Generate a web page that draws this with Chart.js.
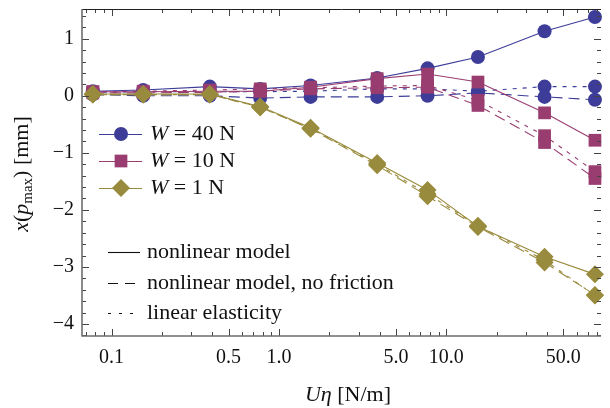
<!DOCTYPE html>
<html>
<head>
<meta charset="utf-8">
<script src="https://cdn.jsdelivr.net/npm/chart.js@4.4.1/dist/chart.umd.min.js"></script>
<style>
  html, body { margin: 0; padding: 0; background: #fff; }
  #wrap { width: 610px; height: 408px; position: relative; }
</style>
</head>
<body>
<div id="wrap"><canvas id="dispChart"></canvas></div>
<script>
// U*eta values [N/m]
const uEta = [0.0773, 0.1546, 0.3865, 0.773, 1.546, 3.865, 7.73, 15.46, 38.65, 77.3];

// x(p_max) [mm], W = 40 N
const w40Nonlinear   = [0.08, 0.10, 0.16, 0.12, 0.18, 0.31, 0.48, 0.68, 1.13, 1.38];
const w40NoFriction  = [0.02, 0.00, 0.00, -0.04, -0.02, -0.02, 0.00, 0.05, -0.02, -0.07];
const w40Linear      = [0.06, 0.07, 0.07, 0.07, 0.08, 0.12, 0.12, 0.08, 0.16, 0.16];

// W = 10 N
const w10Nonlinear   = [0.07, 0.07, 0.08, 0.08, 0.15, 0.30, 0.38, 0.24, -0.30, -0.78];
const w10NoFriction  = [0.05, 0.05, 0.06, 0.08, 0.12, 0.14, 0.15, -0.17, -0.82, -1.45];
const w10Linear      = [0.07, 0.08, 0.10, 0.12, 0.14, 0.17, 0.18, -0.08, -0.70, -1.33];

// W = 1 N
const w1Nonlinear    = [0.03, 0.03, 0.03, -0.19, -0.56, -1.18, -1.65, -2.29, -2.82, -3.13];
const w1NoFriction   = [0.02, 0.02, 0.02, -0.20, -0.58, -1.22, -1.76, -2.30, -2.92, -3.49];
const w1Linear       = [0.02, 0.02, 0.02, -0.20, -0.57, -1.20, -1.72, -2.28, -2.88, -3.50];

// axis ticks
const xMajorTicks = [0.1, 0.5, 1, 5, 10, 50];
const xMajorLabels = ['0.1', '0.5', '1.0', '5.0', '10.0', '50.0'];
const xMinorTicks = [0.07, 0.08, 0.09, 0.2, 0.3, 0.4, 0.6, 0.7, 0.8, 0.9,
                     2, 3, 4, 6, 7, 8, 9, 20, 30, 40, 60, 70, 80];
const yMajorTicks = [-4, -3, -2, -1, 0, 1];
const yMinorTicks = [-4.2, -3.8, -3.6, -3.4, -3.2, -2.8, -2.6, -2.4, -2.2, -1.8, -1.6, -1.4, -1.2,
                     -0.8, -0.6, -0.4, -0.2, 0.2, 0.4, 0.6, 0.8, 1.2, 1.4];

const legendLabels = ['40', '10', '1'];
const styleLabels = ['nonlinear model', 'nonlinear model, no friction', 'linear elasticity'];

const BLUE = '#3d3d99';
const MAGENTA = '#993d71';
const OLIVE = '#998b3d';
const DASHED = [11, 6];
const DOTTED = [4, 6];

function pts(ys) {
    return uEta.map((x, i) => ({ x: x, y: ys[i] }));
}

function series(label, ys, color, style, radius, dash) {
    return {
        label: label,
        data: pts(ys),
        borderColor: color,
        backgroundColor: color,
        borderWidth: 1.1,
        borderDash: dash,
        pointStyle: style,
        pointRadius: radius,
        pointBorderWidth: 0,
        pointBackgroundColor: color,
        tension: 0,
        clip: 10
    };
}

const datasets = [
    series('1 N nonlinear', w1Nonlinear, OLIVE, 'rectRot', 9, []),
    series('1 N no friction', w1NoFriction, OLIVE, 'rectRot', 9, DASHED),
    series('1 N linear', w1Linear, OLIVE, 'rectRot', 9, DOTTED),
    series('10 N nonlinear', w10Nonlinear, MAGENTA, 'rect', 9, []),
    series('10 N no friction', w10NoFriction, MAGENTA, 'rect', 9, DASHED),
    series('10 N linear', w10Linear, MAGENTA, 'rect', 9, DOTTED),
    series('40 N nonlinear', w40Nonlinear, BLUE, 'circle', 7, []),
    series('40 N no friction', w40NoFriction, BLUE, 'circle', 7, DASHED),
    series('40 N linear', w40Linear, BLUE, 'circle', 7, DOTTED)
];

const SERIF = '"Liberation Serif", "DejaVu Serif", serif';

// frame, ticks, labels, titles and both legends
const framePlugin = {
    id: 'frame',
    afterDraw(chart) {
        const ctx = chart.ctx;
        const a = chart.chartArea;
        const xs = chart.scales.x;
        const ys = chart.scales.y;
        ctx.save();

        // ticks (inside, all sides)
        ctx.strokeStyle = '#444';
        ctx.lineWidth = 1;
        const xTick = (v, len) => {
            const px = Math.round(xs.getPixelForValue(v)) + 0.5;
            ctx.beginPath();
            ctx.moveTo(px, a.bottom); ctx.lineTo(px, a.bottom - len);
            ctx.moveTo(px, a.top); ctx.lineTo(px, a.top + len);
            ctx.stroke();
        };
        const yTick = (v, len) => {
            const py = Math.round(ys.getPixelForValue(v)) + 0.5;
            ctx.beginPath();
            ctx.moveTo(a.left, py); ctx.lineTo(a.left + len, py);
            ctx.moveTo(a.right, py); ctx.lineTo(a.right - len, py);
            ctx.stroke();
        };
        xMajorTicks.forEach(v => xTick(v, 7));
        xMinorTicks.forEach(v => xTick(v, 4));
        yMajorTicks.forEach(v => yTick(v, 7));
        yMinorTicks.forEach(v => yTick(v, 4));

        // frame
        ctx.strokeStyle = '#222';
        ctx.lineWidth = 1;
        ctx.beginPath();
        ctx.moveTo(a.left, a.top + 0.5); ctx.lineTo(a.right, a.top + 0.5);
        ctx.stroke();
        ctx.strokeStyle = '#6e6e6e';
        ctx.lineWidth = 1.6;
        ctx.beginPath();
        ctx.moveTo(a.left, a.top); ctx.lineTo(a.left, a.bottom); ctx.lineTo(a.right, a.bottom);
        ctx.stroke();

        // tick labels
        ctx.fillStyle = '#111';
        ctx.font = '20px ' + SERIF;
        ctx.textBaseline = 'middle';
        ctx.textAlign = 'center';
        xMajorTicks.forEach((v, i) => {
            ctx.fillText(xMajorLabels[i], xs.getPixelForValue(v), a.bottom + 22);
        });
        ctx.textAlign = 'right';
        yMajorTicks.forEach(v => {
            const lbl = v < 0 ? '\u2212' + Math.abs(v) : String(v);
            ctx.fillText(lbl, a.left - 8, ys.getPixelForValue(v));
        });

        // x title: U eta [N/m]
        const xParts = [
            { t: 'U\u03b7', f: 'italic 22px ' + SERIF },
            { t: ' [N/m]', f: '22px ' + SERIF }
        ];
        drawParts(ctx, xParts, 348, 395);

        // y title: x(p_max) [mm], rotated
        ctx.save();
        ctx.translate(22, 174);
        ctx.rotate(-Math.PI / 2);
        const yParts = [
            { t: 'x', f: 'italic 22px ' + SERIF },
            { t: '(', f: '22px ' + SERIF },
            { t: 'p', f: 'italic 22px ' + SERIF },
            { t: 'max', f: '15px ' + SERIF, dy: 6 },
            { t: ') [mm]', f: '22px ' + SERIF }
        ];
        drawParts(ctx, yParts, 0, 0);
        ctx.restore();

        // series legend
        const markers = [
            { c: BLUE, s: 'circle', r: 7 },
            { c: MAGENTA, s: 'rect', r: 9 },
            { c: OLIVE, s: 'rectRot', r: 9 }
        ];
        const rowsA = [134, 161, 188];
        markers.forEach((m, i) => {
            const y = rowsA[i];
            ctx.strokeStyle = m.c;
            ctx.lineWidth = 1.1;
            ctx.setLineDash([]);
            ctx.beginPath();
            ctx.moveTo(99, y + 0.5); ctx.lineTo(142, y + 0.5);
            ctx.stroke();
            ctx.fillStyle = m.c;
            Chart.helpers.drawPoint(ctx, { pointStyle: m.s, radius: m.r, rotation: 0, borderWidth: 0 }, 121, y);
            const parts = [
                { t: 'W', f: 'italic 22px ' + SERIF },
                { t: ' = ' + legendLabels[i] + ' N', f: '22px ' + SERIF }
            ];
            drawParts(ctx, parts, 150, y, true);
        });

        // line style legend
        const dashes = [[], [10, 7], [3, 8]];
        const rowsB = [252, 283, 313];
        dashes.forEach((d, i) => {
            const y = rowsB[i];
            ctx.strokeStyle = '#111';
            ctx.lineWidth = 1.1;
            ctx.setLineDash(d);
            ctx.beginPath();
            ctx.moveTo(108, y + 0.5); ctx.lineTo(140, y + 0.5);
            ctx.stroke();
            ctx.setLineDash([]);
            ctx.fillStyle = '#111';
            ctx.font = '22px ' + SERIF;
            ctx.textAlign = 'left';
            ctx.textBaseline = 'middle';
            ctx.fillText(styleLabels[i], 147, y);
        });

        ctx.restore();
    }
};

function drawParts(ctx, parts, x, y, leftAligned) {
    let total = 0;
    parts.forEach(p => { ctx.font = p.f; p.w = ctx.measureText(p.t).width; total += p.w; });
    let cx = leftAligned ? x : x - total / 2;
    ctx.textAlign = 'left';
    ctx.textBaseline = 'middle';
    ctx.fillStyle = '#111';
    parts.forEach(p => {
        ctx.font = p.f;
        ctx.fillText(p.t, cx, y + (p.dy || 0));
        cx += p.w;
    });
}

new Chart(document.getElementById('dispChart'), {
    type: 'line',
    data: { datasets: datasets },
    options: {
        responsive: true,
        maintainAspectRatio: false,
        animation: false,
        layout: { padding: { left: 82, top: 8, right: 0, bottom: 72 } },
        plugins: {
            legend: { display: false },
            tooltip: { enabled: false }
        },
        scales: {
            x: { type: 'logarithmic', min: 0.0666, max: 84, display: false },
            y: { type: 'linear', min: -4.21, max: 1.52, display: false }
        }
    },
    plugins: [framePlugin]
});
</script>
</body>
</html>
